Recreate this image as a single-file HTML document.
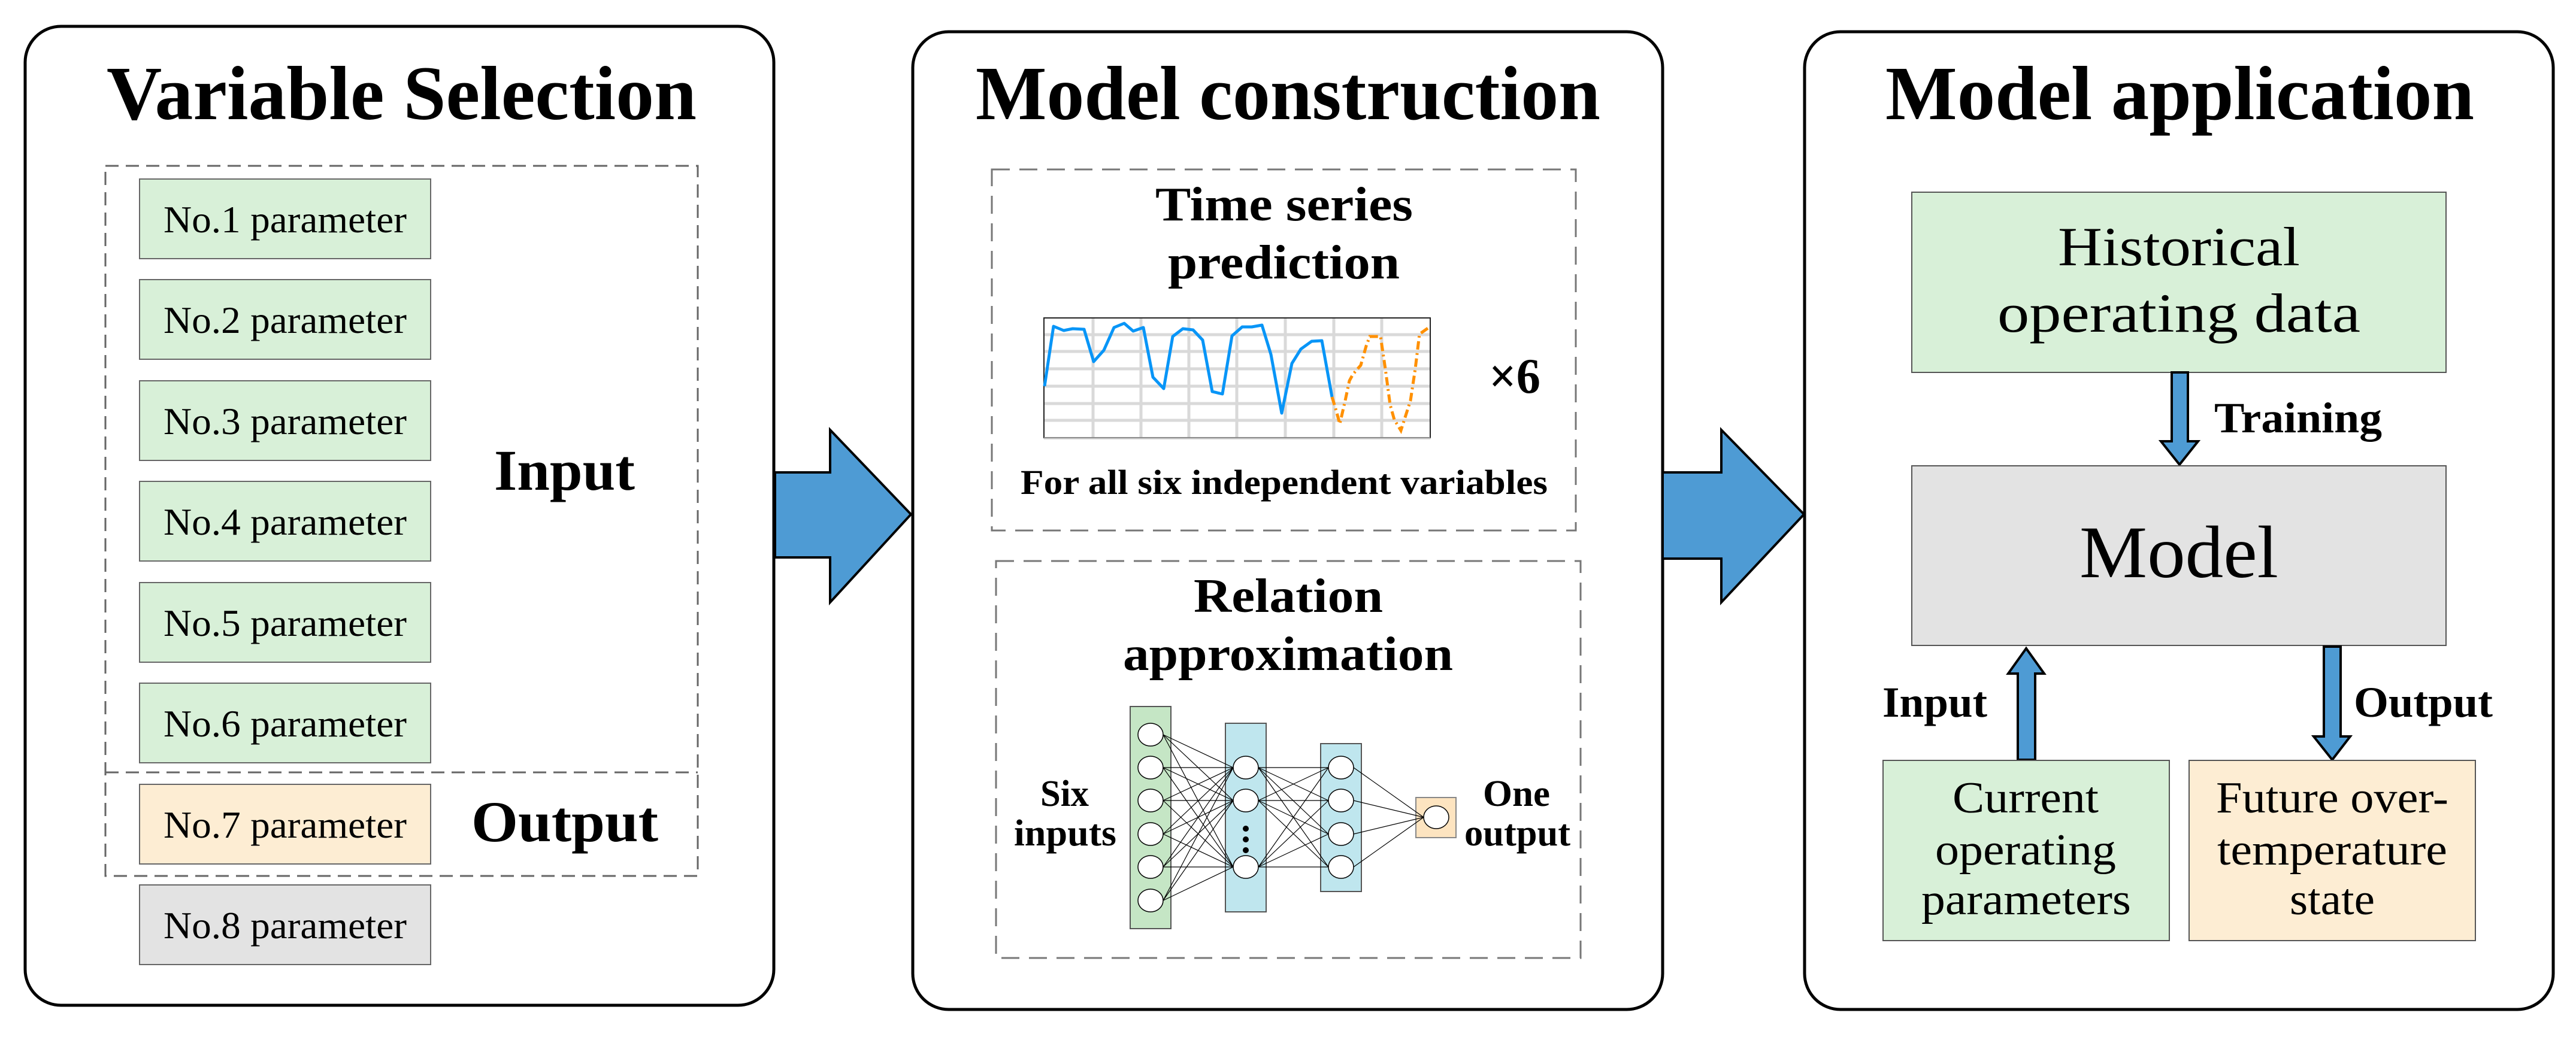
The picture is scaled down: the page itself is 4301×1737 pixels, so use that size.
<!DOCTYPE html>
<html><head><meta charset="utf-8"><style>
html,body{margin:0;padding:0;background:#fff}
svg{display:block}
text{font-family:"Liberation Serif",serif;fill:#000}
.b{font-weight:bold}
</style></head><body>
<svg width="4301" height="1737" viewBox="0 0 4301 1737" xmlns="http://www.w3.org/2000/svg">
<rect width="4301" height="1737" fill="#fff"/>
<!-- Panel 1 -->
<rect x="42" y="44" width="1250" height="1635" rx="60" fill="#fff" stroke="#000" stroke-width="5"/>
<text class="b" x="178" y="199" font-size="128" textLength="985" lengthAdjust="spacingAndGlyphs">Variable Selection</text>
<rect x="176" y="277" width="989" height="1186" fill="none" stroke="#666" stroke-width="3" stroke-dasharray="22 12"/>
<line x1="176" y1="1290" x2="1165" y2="1290" stroke="#666" stroke-width="3" stroke-dasharray="22 12"/>
<g stroke="#666" stroke-width="2">
<rect x="233" y="299" width="486" height="133" fill="#d8f0d8"/>
<rect x="233" y="467" width="486" height="133" fill="#d8f0d8"/>
<rect x="233" y="636" width="486" height="133" fill="#d8f0d8"/>
<rect x="233" y="804" width="486" height="133" fill="#d8f0d8"/>
<rect x="233" y="973" width="486" height="133" fill="#d8f0d8"/>
<rect x="233" y="1141" width="486" height="133" fill="#d8f0d8"/>
<rect x="233" y="1310" width="486" height="133" fill="#fdedd3"/>
<rect x="233" y="1478" width="486" height="133" fill="#e3e3e3"/>
</g>
<g font-size="64">
<text x="273" y="388" textLength="406" lengthAdjust="spacingAndGlyphs">No.1 parameter</text>
<text x="273" y="556" textLength="406" lengthAdjust="spacingAndGlyphs">No.2 parameter</text>
<text x="273" y="725" textLength="406" lengthAdjust="spacingAndGlyphs">No.3 parameter</text>
<text x="273" y="893" textLength="406" lengthAdjust="spacingAndGlyphs">No.4 parameter</text>
<text x="273" y="1062" textLength="406" lengthAdjust="spacingAndGlyphs">No.5 parameter</text>
<text x="273" y="1230" textLength="406" lengthAdjust="spacingAndGlyphs">No.6 parameter</text>
<text x="273" y="1399" textLength="406" lengthAdjust="spacingAndGlyphs">No.7 parameter</text>
<text x="273" y="1567" textLength="406" lengthAdjust="spacingAndGlyphs">No.8 parameter</text>
</g>
<text class="b" x="825" y="818" font-size="96" textLength="235" lengthAdjust="spacingAndGlyphs">Input</text>
<text class="b" x="787" y="1405" font-size="96" textLength="312" lengthAdjust="spacingAndGlyphs">Output</text>
<!-- Arrow 1 -->
<polygon points="1294,789 1386,789 1386,718 1521,859 1386,1006 1386,931 1294,931" fill="#4e9bd4" stroke="#000" stroke-width="4"/>
<!-- Panel 2 -->
<rect x="1524" y="53" width="1252" height="1633" rx="60" fill="#fff" stroke="#000" stroke-width="5"/>
<text class="b" x="1629" y="199" font-size="128" textLength="1043" lengthAdjust="spacingAndGlyphs">Model construction</text>
<rect x="1656" y="283" width="975" height="603" fill="none" stroke="#777" stroke-width="3" stroke-dasharray="30 16"/>
<text class="b" x="1929" y="368" font-size="80" textLength="430" lengthAdjust="spacingAndGlyphs">Time series</text>
<text class="b" x="1950" y="465" font-size="80" textLength="387" lengthAdjust="spacingAndGlyphs">prediction</text>
<!-- chart -->
<g stroke="#d9d9d9" stroke-width="5">
<line x1="1743" y1="559" x2="2388" y2="559"/><line x1="1743" y1="587" x2="2388" y2="587"/>
<line x1="1743" y1="616" x2="2388" y2="616"/><line x1="1743" y1="645" x2="2388" y2="645"/>
<line x1="1743" y1="674" x2="2388" y2="674"/><line x1="1743" y1="702" x2="2388" y2="702"/>
<line x1="1825" y1="531" x2="1825" y2="731"/><line x1="1905" y1="531" x2="1905" y2="731"/>
<line x1="1985" y1="531" x2="1985" y2="731"/><line x1="2065" y1="531" x2="2065" y2="731"/>
<line x1="2146" y1="531" x2="2146" y2="731"/><line x1="2227" y1="531" x2="2227" y2="731"/>
<line x1="2307" y1="531" x2="2307" y2="731"/>
</g>
<rect x="1743" y="531" width="645" height="200" fill="none" stroke="#222" stroke-width="2"/>
<line x1="1743" y1="732" x2="2388" y2="732" stroke="#bbb" stroke-width="3"/>
<polyline fill="none" stroke="#0895f7" stroke-width="5" stroke-linejoin="round" points="1744,645 1759,545 1776,552 1791,549 1810,550 1826,604 1843,585 1860,547 1877,540 1892,553 1909,547 1925,630 1943,649 1958,562 1975,549 1992,551 2008,568 2024,654 2041,658 2057,561 2074,546 2090,546 2107,543 2122,592 2140,690 2157,607 2172,583 2190,570 2207,569 2224,663"/>
<polyline fill="none" stroke="#ff9000" stroke-width="5" stroke-dasharray="14 6 3 6" points="2224,663 2231,686 2237,708 2246,669 2253,636 2259,625 2272,610 2281,578 2287,562 2305,562 2313,616 2321,676 2328,701 2339,719 2355,669 2363,616 2370,558 2387,546"/>
<text class="b" x="2486" y="656" font-size="84" textLength="86" lengthAdjust="spacingAndGlyphs">×6</text>
<text class="b" x="1704" y="825" font-size="58" textLength="880" lengthAdjust="spacingAndGlyphs">For all six independent variables</text>
<rect x="1663" y="937" width="976" height="663" fill="none" stroke="#777" stroke-width="3" stroke-dasharray="30 16"/>
<text class="b" x="1993" y="1022" font-size="80" textLength="316" lengthAdjust="spacingAndGlyphs">Relation</text>
<text class="b" x="1875" y="1119" font-size="80" textLength="551" lengthAdjust="spacingAndGlyphs">approximation</text>
<!-- NN -->
<rect x="1887" y="1180" width="68" height="371" fill="#c5e6c5" stroke="#555" stroke-width="2"/>
<rect x="2046" y="1208" width="68" height="315" fill="#bfe6ee" stroke="#555" stroke-width="2"/>
<rect x="2205" y="1242" width="68" height="247" fill="#bfe6ee" stroke="#555" stroke-width="2"/>
<rect x="2364" y="1332" width="67" height="67" fill="#fde4c0" stroke="#888" stroke-width="2"/>
<g stroke="#000" stroke-width="1.2">
<path d="M1942 1227L2059 1282M1942 1227L2059 1337M1942 1227L2059 1448
M1942 1282L2059 1282M1942 1282L2059 1337M1942 1282L2059 1448
M1942 1337L2059 1282M1942 1337L2059 1337M1942 1337L2059 1448
M1942 1393L2059 1282M1942 1393L2059 1337M1942 1393L2059 1448
M1942 1448L2059 1282M1942 1448L2059 1337M1942 1448L2059 1448
M1942 1504L2059 1282M1942 1504L2059 1337M1942 1504L2059 1448
M2101 1282L2218 1282M2101 1282L2218 1337M2101 1282L2218 1393M2101 1282L2218 1448
M2101 1337L2218 1282M2101 1337L2218 1337M2101 1337L2218 1393M2101 1337L2218 1448
M2101 1448L2218 1282M2101 1448L2218 1337M2101 1448L2218 1393M2101 1448L2218 1448
M2260 1282L2377 1365M2260 1337L2377 1365M2260 1393L2377 1365M2260 1448L2377 1365"/>
</g>
<g fill="#fff" stroke="#000" stroke-width="1.5">
<ellipse cx="1921" cy="1227" rx="21" ry="19"/><ellipse cx="1921" cy="1282" rx="21" ry="19"/>
<ellipse cx="1921" cy="1337" rx="21" ry="19"/><ellipse cx="1921" cy="1393" rx="21" ry="19"/>
<ellipse cx="1921" cy="1448" rx="21" ry="19"/><ellipse cx="1921" cy="1504" rx="21" ry="19"/>
<ellipse cx="2080" cy="1282" rx="21" ry="19"/><ellipse cx="2080" cy="1337" rx="21" ry="19"/>
<ellipse cx="2080" cy="1448" rx="21" ry="19"/>
<ellipse cx="2239" cy="1282" rx="21" ry="19"/><ellipse cx="2239" cy="1337" rx="21" ry="19"/>
<ellipse cx="2239" cy="1393" rx="21" ry="19"/><ellipse cx="2239" cy="1448" rx="21" ry="19"/>
<ellipse cx="2398" cy="1365" rx="21" ry="19"/>
</g>
<g fill="#000"><circle cx="2080" cy="1384" r="5"/><circle cx="2080" cy="1402" r="5"/><circle cx="2080" cy="1420" r="5"/></g>
<g class="b" font-size="62">
<text class="b" x="1737" y="1346" textLength="81" lengthAdjust="spacingAndGlyphs">Six</text>
<text class="b" x="1693" y="1412" textLength="171" lengthAdjust="spacingAndGlyphs">inputs</text>
<text class="b" x="2476" y="1346" textLength="112" lengthAdjust="spacingAndGlyphs">One</text>
<text class="b" x="2445" y="1412" textLength="177" lengthAdjust="spacingAndGlyphs">output</text>
</g>
<!-- Arrow 2 -->
<polygon points="2776,789 2874,789 2874,718 3012,859 2874,1006 2874,933 2776,933" fill="#4e9bd4" stroke="#000" stroke-width="4"/>
<!-- Panel 3 -->
<rect x="3013" y="53" width="1250" height="1633" rx="60" fill="#fff" stroke="#000" stroke-width="5"/>
<text class="b" x="3148" y="199" font-size="128" textLength="983" lengthAdjust="spacingAndGlyphs">Model application</text>
<rect x="3192" y="321" width="892" height="301" fill="#d8f0d8" stroke="#555" stroke-width="2"/>
<text x="3436" y="443" font-size="92" textLength="404" lengthAdjust="spacingAndGlyphs">Historical</text>
<text x="3335" y="554" font-size="92" textLength="606" lengthAdjust="spacingAndGlyphs">operating data</text>
<polygon points="3626,622 3653,622 3653,737 3670,737 3639,776 3608,737 3626,737" fill="#4e9bd4" stroke="#000" stroke-width="4"/>
<text class="b" x="3697" y="722" font-size="72" textLength="280" lengthAdjust="spacingAndGlyphs">Training</text>
<rect x="3192" y="778" width="892" height="300" fill="#e3e3e3" stroke="#555" stroke-width="2"/>
<text x="3472" y="964" font-size="124" textLength="332" lengthAdjust="spacingAndGlyphs">Model</text>
<polygon points="3369,1269 3398,1269 3398,1125 3413,1125 3383,1083 3353,1125 3369,1125" fill="#4e9bd4" stroke="#000" stroke-width="4"/>
<text class="b" x="3143" y="1197" font-size="72" textLength="175" lengthAdjust="spacingAndGlyphs">Input</text>
<polygon points="3880,1080 3908,1080 3908,1230 3924,1230 3894,1269 3863,1230 3880,1230" fill="#4e9bd4" stroke="#000" stroke-width="4"/>
<text class="b" x="3930" y="1197" font-size="72" textLength="232" lengthAdjust="spacingAndGlyphs">Output</text>
<rect x="3144" y="1270" width="478" height="301" fill="#d8f0d8" stroke="#555" stroke-width="2"/>
<rect x="3655" y="1270" width="478" height="301" fill="#fdedd3" stroke="#555" stroke-width="2"/>
<g font-size="74">
<text x="3260" y="1357" textLength="244" lengthAdjust="spacingAndGlyphs">Current</text>
<text x="3231" y="1444" textLength="302" lengthAdjust="spacingAndGlyphs">operating</text>
<text x="3208" y="1527" textLength="350" lengthAdjust="spacingAndGlyphs">parameters</text>
<text x="3700" y="1357" textLength="388" lengthAdjust="spacingAndGlyphs">Future over-</text>
<text x="3702" y="1444" textLength="384" lengthAdjust="spacingAndGlyphs">temperature</text>
<text x="3823" y="1527" textLength="142" lengthAdjust="spacingAndGlyphs">state</text>
</g>
</svg>
</body></html>
